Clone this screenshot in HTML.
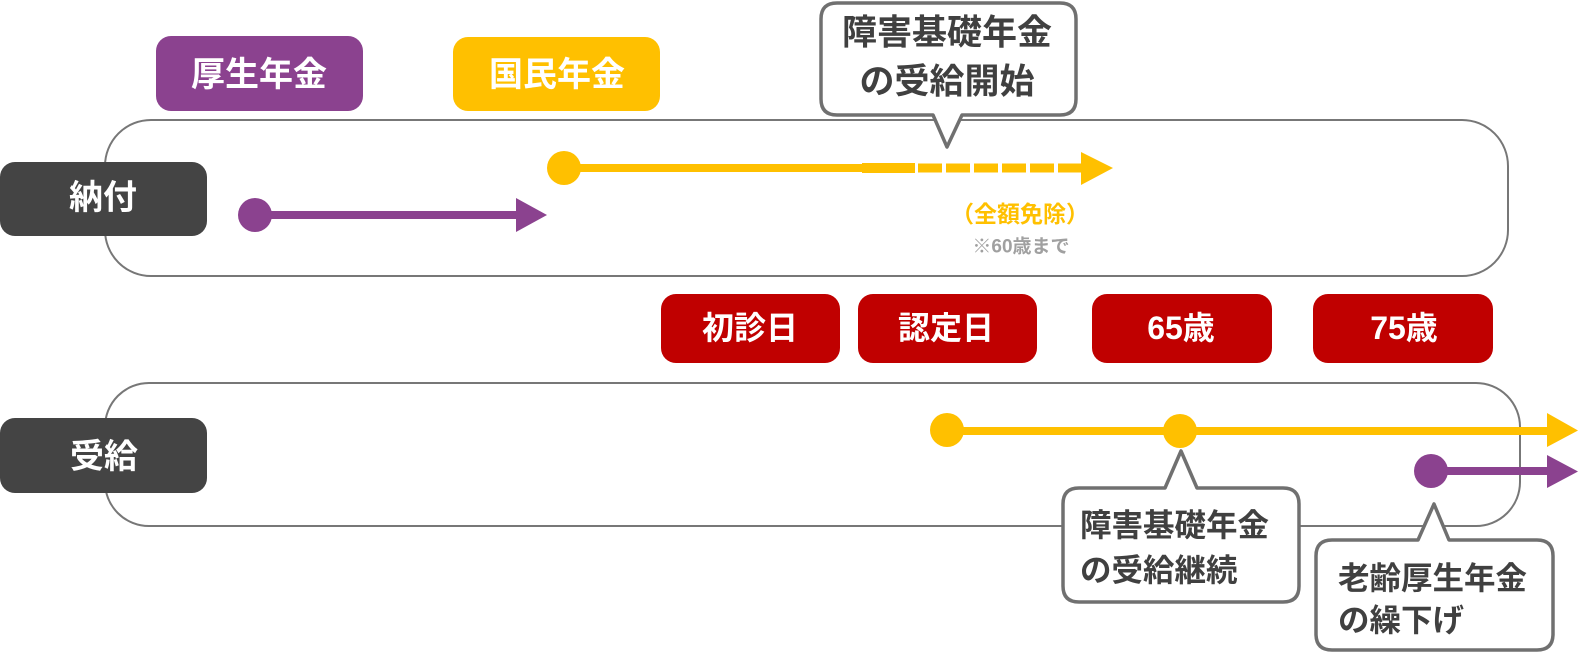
<!DOCTYPE html>
<html>
<head>
<meta charset="utf-8">
<style>
  html,body{margin:0;padding:0;background:#fff;}
  svg{display:block;}
  text{font-family:"Liberation Sans","Noto Sans CJK JP",sans-serif;font-weight:bold;}
</style>
</head>
<body>
<svg width="1579" height="653" viewBox="0 0 1579 653" xmlns="http://www.w3.org/2000/svg">
  <!-- timeline boxes -->
  <rect x="105" y="120" width="1403" height="156" rx="46" ry="46" fill="#fff" stroke="#777" stroke-width="2"/>
  <rect x="105" y="383" width="1415" height="143" rx="44" ry="44" fill="#fff" stroke="#777" stroke-width="2"/>

  <!-- row labels -->
  <rect x="0" y="162" width="207" height="74" rx="15" fill="#444"/>
  <text x="103" y="198" font-size="34" fill="#fff" text-anchor="middle" dominant-baseline="central">納付</text>
  <rect x="0" y="418" width="207" height="75" rx="15" fill="#444"/>
  <text x="104" y="457" font-size="34" fill="#fff" text-anchor="middle" dominant-baseline="central">受給</text>

  <!-- top badges -->
  <rect x="156" y="36" width="207" height="75" rx="15" fill="#8b428f"/>
  <text x="259" y="75" font-size="34" fill="#fff" text-anchor="middle" dominant-baseline="central">厚生年金</text>
  <rect x="453" y="37" width="207" height="74" rx="15" fill="#ffc000"/>
  <text x="557" y="75" font-size="34" fill="#fff" text-anchor="middle" dominant-baseline="central">国民年金</text>

  <!-- red badges -->
  <rect x="661" y="294" width="179" height="69" rx="15" fill="#c00000"/>
  <text x="750" y="328" font-size="32" fill="#fff" text-anchor="middle" dominant-baseline="central">初診日</text>
  <rect x="858" y="294" width="179" height="69" rx="15" fill="#c00000"/>
  <text x="946" y="328" font-size="32" fill="#fff" text-anchor="middle" dominant-baseline="central">認定日</text>
  <rect x="1092" y="294" width="180" height="69" rx="15" fill="#c00000"/>
  <text x="1181" y="328" font-size="32" fill="#fff" text-anchor="middle" dominant-baseline="central">65歳</text>
  <rect x="1313" y="294" width="180" height="69" rx="15" fill="#c00000"/>
  <text x="1404" y="328" font-size="32" fill="#fff" text-anchor="middle" dominant-baseline="central">75歳</text>

  <!-- top purple arrow -->
  <line x1="255" y1="215" x2="520" y2="215" stroke="#8b428f" stroke-width="8"/>
  <circle cx="255" cy="215" r="17" fill="#8b428f"/>
  <polygon points="516,198 547,215 516,232" fill="#8b428f"/>

  <!-- top yellow arrow -->
  <line x1="564" y1="168" x2="915" y2="168" stroke="#ffc000" stroke-width="8"/>
  <circle cx="564" cy="168" r="17" fill="#ffc000"/>
  <rect x="862" y="163" width="53" height="10" fill="#ffc000"/>
  <rect x="918" y="163.5" width="24" height="9" fill="#ffc000"/>
  <rect x="946" y="163.5" width="24" height="9" fill="#ffc000"/>
  <rect x="974" y="163.5" width="24" height="9" fill="#ffc000"/>
  <rect x="1002" y="163.5" width="24" height="9" fill="#ffc000"/>
  <rect x="1030" y="163.5" width="24" height="9" fill="#ffc000"/>
  <rect x="1058" y="163.5" width="24" height="9" fill="#ffc000"/>
  <polygon points="1081,152 1113,168 1081,185" fill="#ffc000"/>

  <text x="1020" y="214" font-size="23" fill="#ffc000" text-anchor="middle" dominant-baseline="central">（全額免除）</text>
  <text x="1021" y="247" font-size="19" fill="#a0a0a0" text-anchor="middle" dominant-baseline="central">※60歳まで</text>

  <!-- bottom yellow arrow -->
  <line x1="947" y1="431" x2="1550" y2="431" stroke="#ffc000" stroke-width="8"/>
  <circle cx="947" cy="430" r="17" fill="#ffc000"/>
  <circle cx="1180" cy="431" r="17" fill="#ffc000"/>
  <polygon points="1547,413 1578,430.5 1547,447" fill="#ffc000"/>

  <!-- bottom purple arrow -->
  <line x1="1431" y1="471" x2="1550" y2="471" stroke="#8b428f" stroke-width="8"/>
  <circle cx="1431" cy="471" r="17" fill="#8b428f"/>
  <polygon points="1547,455 1578,471.5 1547,488" fill="#8b428f"/>

  <!-- top bubble -->
  <path d="M837,3 H1060 Q1076,3 1076,19 V99 Q1076,115 1060,115 H962 L947,147 L933,115 H837 Q821,115 821,99 V19 Q821,3 837,3 Z" fill="#fff" stroke="#707070" stroke-width="3.5" stroke-linejoin="round"/>
  <text x="947" y="33" font-size="35" fill="#404040" text-anchor="middle" dominant-baseline="central">障害基礎年金</text>
  <text x="947" y="82" font-size="35" fill="#404040" text-anchor="middle" dominant-baseline="central">の受給開始</text>

  <!-- bottom bubble 1 -->
  <path d="M1079,488 H1165 L1181,451 L1197,488 H1283 Q1299,488 1299,504 V586 Q1299,602 1283,602 H1079 Q1063,602 1063,586 V504 Q1063,488 1079,488 Z" fill="#fff" stroke="#707070" stroke-width="3.5" stroke-linejoin="round"/>
  <text x="1080" y="525" font-size="31.5" fill="#404040" dominant-baseline="central">障害基礎年金</text>
  <text x="1080" y="570" font-size="31.5" fill="#404040" dominant-baseline="central">の受給継続</text>

  <!-- bottom bubble 2 -->
  <path d="M1332,540 H1418 L1434,504 L1449,540 H1537 Q1553,540 1553,556 V634 Q1553,650 1537,650 H1332 Q1316,650 1316,634 V556 Q1316,540 1332,540 Z" fill="#fff" stroke="#707070" stroke-width="3.5" stroke-linejoin="round"/>
  <text x="1338" y="578" font-size="31.5" fill="#404040" dominant-baseline="central">老齢厚生年金</text>
  <text x="1338" y="620" font-size="31.5" fill="#404040" dominant-baseline="central">の繰下げ</text>
</svg>
</body>
</html>
